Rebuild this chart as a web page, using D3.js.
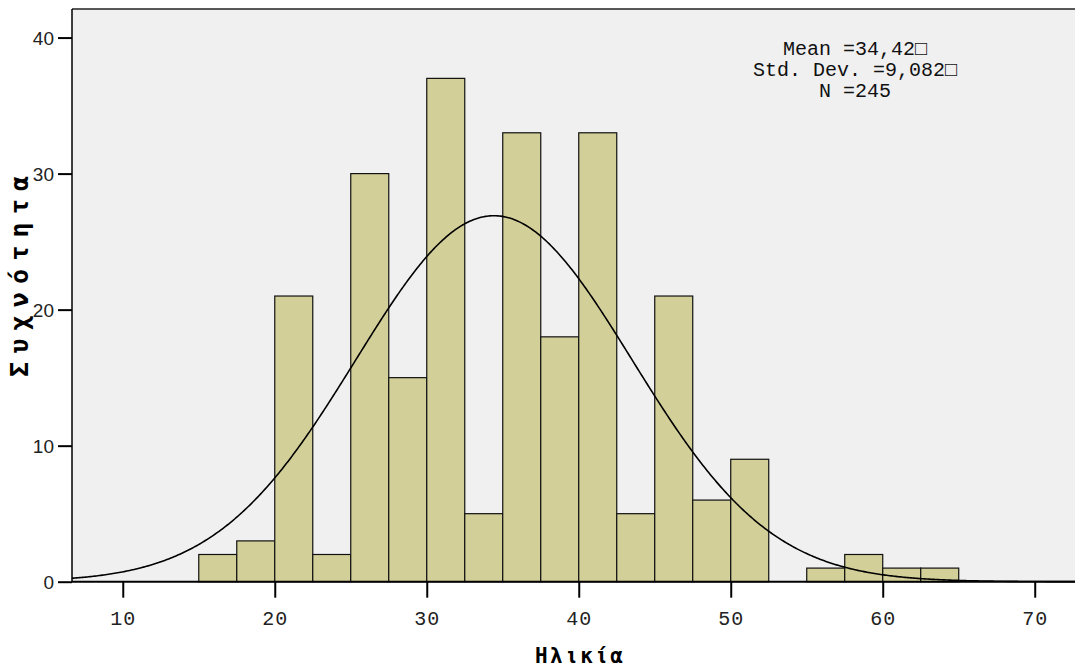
<!DOCTYPE html>
<html>
<head>
<meta charset="utf-8">
<script src="https://cdn.jsdelivr.net/npm/d3@7"></script>
<style>
  html, body { margin: 0; padding: 0; background: #ffffff; }
  svg { display: block; }
</style>
</head>
<body>
<svg id="chart" width="1075" height="669"></svg>
<script>
// Age histogram (bin width 2.5) with fitted normal curve
const binStarts = [15, 17.5, 20, 22.5, 25, 27.5, 30, 32.5, 35, 37.5, 40, 42.5, 45, 47.5, 50, 52.5, 55, 57.5, 60, 62.5];
const binCounts = [2, 3, 21, 2, 30, 15, 37, 5, 33, 18, 33, 5, 21, 6, 9, 0, 1, 2, 1, 1];
const binWidth = 2.5;
const xTicks = [10, 20, 30, 40, 50, 60, 70];
const yTicks = [0, 10, 20, 30, 40];
const mean = 34.42;
const stdDev = 9.082;
const total = 245;
const statLines = ["Mean =34,42\u25A1", "Std. Dev. =9,082\u25A1", "N =245"];
const xTitle = "Ηλικία";
const yTitle = "Συχνότητα";

const svg = d3.select("#chart");
const plotLeft = 72, plotRight = 1075, plotTop = 9, plotBottom = 581.7;

const x = d3.scaleLinear().domain([6.66, 72.65]).range([plotLeft, plotRight]);
const y = d3.scaleLinear().domain([0, 42.1]).range([plotBottom, plotTop]);

// plot background
svg.append("rect")
  .attr("x", plotLeft).attr("y", plotTop)
  .attr("width", plotRight - plotLeft).attr("height", plotBottom - plotTop)
  .attr("fill", "#f0f0f0");

// bars
svg.append("g").selectAll("rect")
  .data(binStarts.map((s, i) => ({ s, c: binCounts[i] })).filter(d => d.c > 0))
  .join("rect")
  .attr("x", d => x(d.s))
  .attr("y", d => y(d.c))
  .attr("width", d => x(d.s + binWidth) - x(d.s))
  .attr("height", d => y(0) - y(d.c))
  .attr("fill", "#d3cf99")
  .attr("stroke", "#111")
  .attr("stroke-width", 1.2);

// normal curve scaled to counts
const pdf = v => Math.exp(-0.5 * ((v - mean) / stdDev) ** 2) / (stdDev * Math.sqrt(2 * Math.PI));
const curvePts = d3.range(x.domain()[0], x.domain()[1] + 0.01, 0.1);
svg.append("path")
  .datum(curvePts)
  .attr("fill", "none")
  .attr("stroke", "#000")
  .attr("stroke-width", 1.6)
  .attr("d", d3.line().x(v => x(v)).y(v => y(total * binWidth * pdf(v))));

// frame: top border, left and bottom axes
svg.append("line").attr("x1", plotLeft).attr("x2", plotRight).attr("y1", plotTop).attr("y2", plotTop)
  .attr("stroke", "#222").attr("stroke-width", 1.5);

const yAxis = d3.axisLeft(y).tickValues(yTicks).tickSize(14).tickPadding(4).tickFormat(d3.format("d"));
const gy = svg.append("g").attr("transform", `translate(${plotLeft},0)`).call(yAxis);
gy.select(".domain").attr("stroke", "#000").attr("stroke-width", 1.5).attr("d", `M0,${plotTop}V${plotBottom}`);
gy.selectAll(".tick line").attr("stroke", "#000").attr("stroke-width", 2);
gy.selectAll(".tick text")
  .attr("font-family", "Liberation Sans, Arial, sans-serif")
  .attr("font-size", 19).attr("fill", "#222").attr("dy", "0.38em");

const xAxis = d3.axisBottom(x).tickValues(xTicks).tickSize(16).tickPadding(13).tickFormat(d3.format("d"));
const gx = svg.append("g").attr("transform", `translate(0,${plotBottom})`).call(xAxis);
gx.select(".domain").attr("stroke", "#000").attr("stroke-width", 2).attr("d", `M${plotLeft},0H${plotRight}`);
gx.selectAll(".tick line").attr("stroke", "#000").attr("stroke-width", 2);
gx.selectAll(".tick text")
  .attr("font-family", "Liberation Mono, Courier New, monospace")
  .attr("font-size", 20).attr("fill", "#222").attr("letter-spacing", 1);

// axis titles
svg.append("text")
  .attr("x", 579).attr("y", 663)
  .attr("text-anchor", "middle")
  .attr("font-family", "DejaVu Sans Mono, monospace")
  .attr("font-weight", "bold").attr("font-size", 21)
  .attr("textLength", 88).attr("lengthAdjust", "spacing")
  .text(xTitle);

svg.append("text")
  .attr("transform", "translate(28,276.5) rotate(-90)")
  .attr("text-anchor", "middle")
  .attr("font-family", "DejaVu Sans Mono, monospace")
  .attr("font-weight", "bold").attr("font-size", 25)
  .attr("textLength", 201).attr("lengthAdjust", "spacing")
  .text(yTitle);

// summary statistics
svg.append("g").selectAll("text")
  .data(statLines)
  .join("text")
  .attr("x", 855)
  .attr("y", (d, i) => 55 + i * 21)
  .attr("text-anchor", "middle")
  .attr("font-family", "Liberation Mono, Courier New, monospace")
  .attr("font-size", 20)
  .attr("fill", "#111")
  .text(d => d);
</script>
</body>
</html>
